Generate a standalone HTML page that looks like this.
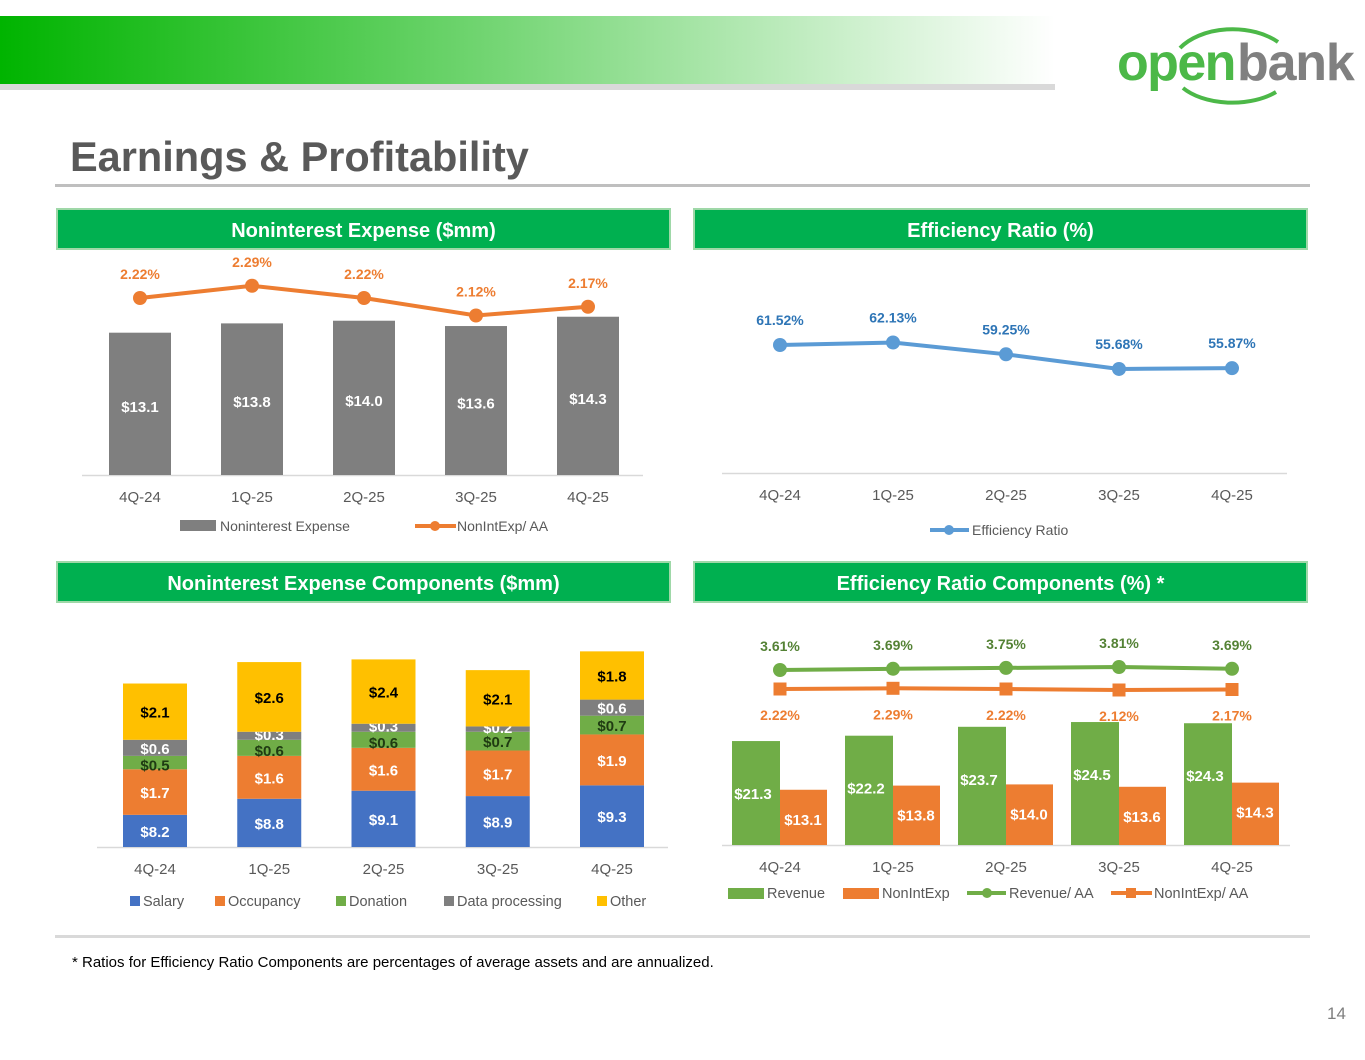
<!DOCTYPE html>
<html><head><meta charset="utf-8"><style>
html,body{margin:0;padding:0;background:#fff;}
body{width:1365px;height:1055px;overflow:hidden;font-family:"Liberation Sans",sans-serif;}
svg text{font-family:"Liberation Sans",sans-serif;}
</style></head><body>
<svg id="s" width="1365" height="1055" viewBox="0 0 1365 1055" xmlns="http://www.w3.org/2000/svg">
<defs><linearGradient id="hg" x1="0" x2="1" y1="0" y2="0">
<stop offset="0" stop-color="#00b400"/><stop offset="0.45" stop-color="#6fd46f"/><stop offset="1" stop-color="#ffffff"/></linearGradient></defs>
<rect x="0" y="16" width="1055" height="68" fill="url(#hg)"/>
<rect x="0" y="84" width="1055" height="6" fill="#d9d9d9"/>
<g>
<path d="M1180 48 A62 40 0 0 1 1278 42" stroke="#4cb848" stroke-width="4" fill="none"/>
<path d="M1183 88 A60 34 0 0 0 1276 92" stroke="#4cb848" stroke-width="4" fill="none"/>
<text x="1117" y="80" font-size="52" font-weight="bold" fill="#4cb848" letter-spacing="-1.6">open</text>
<text x="1237" y="80" font-size="52" font-weight="bold" fill="#808080" letter-spacing="-1.2">bank</text>
</g>
<text x="70" y="171" font-size="41.5" font-weight="bold" fill="#595959">Earnings &amp; Profitability</text>
<rect x="55" y="184" width="1255" height="3" fill="#bfbfbf"/>
<g><rect x="57" y="209" width="613" height="40" fill="#00b050" stroke="#9fd8a8" stroke-width="2"/><text x="363.5" y="237" text-anchor="middle" font-size="20" font-weight="bold" fill="#fff">Noninterest Expense ($mm)</text></g>
<g><rect x="694" y="209" width="613" height="40" fill="#00b050" stroke="#9fd8a8" stroke-width="2"/><text x="1000.5" y="237" text-anchor="middle" font-size="20" font-weight="bold" fill="#fff">Efficiency Ratio (%)</text></g>
<g><rect x="57" y="562" width="613" height="40" fill="#00b050" stroke="#9fd8a8" stroke-width="2"/><text x="363.5" y="590" text-anchor="middle" font-size="20" font-weight="bold" fill="#fff">Noninterest Expense Components ($mm)</text></g>
<g><rect x="694" y="562" width="613" height="40" fill="#00b050" stroke="#9fd8a8" stroke-width="2"/><text x="1000.5" y="590" text-anchor="middle" font-size="20" font-weight="bold" fill="#fff">Efficiency Ratio Components (%) *</text></g>
<rect x="55" y="935" width="1255" height="3" fill="#d9d9d9"/>
<text x="72" y="967" font-size="15" fill="#000">* Ratios for Efficiency Ratio Components are percentages of average assets and are annualized.</text>
<text x="1327" y="1019" font-size="17" fill="#7f7f7f">14</text>
<g id="charts"></g>
</svg>
<script>
const quarters=["4Q-24","1Q-25","2Q-25","3Q-25","4Q-25"];
const nieValues=[13.1,13.8,14.0,13.6,14.3];
const nieAA=[2.22,2.29,2.22,2.12,2.17];
const effRatio=[61.52,62.13,59.25,55.68,55.87];
const salary=[8.2,8.8,9.1,8.9,9.3];
const occupancy=[1.7,1.6,1.6,1.7,1.9];
const donation=[0.5,0.6,0.6,0.7,0.7];
const dataProc=[0.6,0.3,0.3,0.2,0.6];
const other=[2.1,2.6,2.4,2.1,1.8];
const revenue=[21.3,22.2,23.7,24.5,24.3];
const nonIntExp=[13.1,13.8,14.0,13.6,14.3];
const revenueAA=[3.61,3.69,3.75,3.81,3.69];
const nonIntExpAA=[2.22,2.29,2.22,2.12,2.17];

const NS="http://www.w3.org/2000/svg";
const root=document.getElementById('charts');
function mk(tag,attrs,parent,txt){const e=document.createElementNS(NS,tag);for(const k in attrs)e.setAttribute(k,attrs[k]);if(txt!==undefined)e.textContent=txt;(parent||root).appendChild(e);return e;}
function grp(name){const g=mk('g',{});


return g;}
const GRAY="#595959",ORANGE="#ed7d31",BLUE="#5b9bd5",GREEN="#70ad47";

// Chart 1
(function(){
const g=grp('noninterest-expense-chart');
const xs=i=>140+i*112;
const yb=v=>475-(v-2.4)*13.3;
const yl=v=>298-(v-2.22)*175;
mk('line',{x1:82,x2:643,y1:475.5,y2:475.5,stroke:"#d9d9d9","stroke-width":1.5},g);
nieValues.forEach((v,i)=>{
 const r=mk('rect',{x:xs(i)-31,y:yb(v),width:62,height:475-yb(v),fill:"#7f7f7f"},g);
 
 
 mk('text',{x:xs(i),y:(yb(v)+475)/2+8,"text-anchor":"middle","font-size":15,"font-weight":"bold",fill:"#fff"},g,"$"+v.toFixed(1));
 mk('text',{x:xs(i),y:502,"text-anchor":"middle","font-size":15,fill:GRAY},g,quarters[i]);
});
mk('polyline',{points:nieAA.map((v,i)=>xs(i)+","+yl(v)).join(" "),fill:"none",stroke:ORANGE,"stroke-width":4},g);
nieAA.forEach((v,i)=>{
 const c=mk('circle',{cx:xs(i),cy:yl(v),r:7,fill:ORANGE},g);
 
 
 mk('text',{x:xs(i),y:yl(v)-19,"text-anchor":"middle","font-size":14,"font-weight":"bold",fill:ORANGE},g,v.toFixed(2)+"%");
});
mk('rect',{x:180,y:520,width:36,height:11,fill:"#7f7f7f"},g);
mk('text',{x:220,y:531,"font-size":14,fill:GRAY},g,"Noninterest Expense");
mk('line',{x1:415,x2:456,y1:526,y2:526,stroke:ORANGE,"stroke-width":4},g);
mk('circle',{cx:435,cy:526,r:5,fill:ORANGE},g);
mk('text',{x:457,y:531,"font-size":14,fill:GRAY},g,"NonIntExp/ AA");
})();

// Chart 2
(function(){
const g=grp('efficiency-ratio-chart');
const xs=i=>780+i*113;
const yl=v=>345-(v-61.52)*4.1;
mk('line',{x1:722,x2:1287,y1:473.5,y2:473.5,stroke:"#d9d9d9","stroke-width":1.5},g);
quarters.forEach((q,i)=>mk('text',{x:xs(i),y:500,"text-anchor":"middle","font-size":15,fill:GRAY},g,q));
mk('polyline',{points:effRatio.map((v,i)=>xs(i)+","+yl(v)).join(" "),fill:"none",stroke:BLUE,"stroke-width":4},g);
effRatio.forEach((v,i)=>{
 const c=mk('circle',{cx:xs(i),cy:yl(v),r:7,fill:BLUE},g);
 
 
 mk('text',{x:xs(i),y:yl(v)-20,"text-anchor":"middle","font-size":14,"font-weight":"bold",fill:"#2e75b6"},g,v.toFixed(2)+"%");
});
mk('line',{x1:930,x2:969,y1:530,y2:530,stroke:BLUE,"stroke-width":4},g);
mk('circle',{cx:949,cy:530,r:5,fill:BLUE},g);
mk('text',{x:972,y:535,"font-size":14,fill:GRAY},g,"Efficiency Ratio");
})();

// Chart 3
(function(){
const g=grp('expense-components-chart');
const xs=i=>155+i*114.25;
const base=847, sc=26.8, org=7.0;
mk('line',{x1:97,x2:668,y1:847.5,y2:847.5,stroke:"#d9d9d9","stroke-width":1.5},g);
const series=[["salary",salary,"#4472c4","#fff"],["occupancy",occupancy,ORANGE,"#fff"],["donation",donation,GREEN,"#1f3b12"],["data-processing",dataProc,"#7f7f7f","#fff"],["other",other,"#ffc000","#000"]];
quarters.forEach((q,i)=>{
 let top=base;
 series.forEach(([nm,arr,col,tc],k)=>{
  const v=arr[i];
  const h=k===0?(v-org)*sc:v*sc;
  const y=top-h;
  const r=mk('rect',{x:xs(i)-32,y:y,width:64,height:h,fill:col},g);
  
  
  let ty=y+h/2+6;
  if(k===2) ty=y+h/2+(h<17?8:6);
  if(k===3) ty=y+h/2+(h<10?4:6);
  mk('text',{x:xs(i),y:ty,"text-anchor":"middle","font-size":15,"font-weight":"bold",fill:tc},g,"$"+v.toFixed(1));
  top=y;
 });
 mk('text',{x:xs(i),y:874,"text-anchor":"middle","font-size":15,fill:GRAY},g,q);
});
const leg=[["Salary","#4472c4",130],["Occupancy",ORANGE,215],["Donation",GREEN,336],["Data processing","#7f7f7f",444],["Other","#ffc000",597]];
leg.forEach(([t,c,x])=>{mk('rect',{x:x,y:896,width:10,height:10,fill:c},g);mk('text',{x:x+13,y:906,"font-size":14.5,fill:GRAY},g,t);});
})();

// Chart 4
(function(){
const g=grp('efficiency-components-chart');
const xs=i=>780+i*113;
const base=845, sc=5.94, org=3.8;
const yb=v=>base-(v-org)*sc;
const yr=v=>670-(v-3.61)*15;
const yn=v=>689-(v-2.22)*10;
mk('line',{x1:722,x2:1290,y1:845.5,y2:845.5,stroke:"#d9d9d9","stroke-width":1.5},g);
quarters.forEach((q,i)=>{
 const r1=mk('rect',{x:xs(i)-48,y:yb(revenue[i]),width:48,height:base-yb(revenue[i]),fill:GREEN},g);
 
 
 const r2=mk('rect',{x:xs(i),y:yb(nonIntExp[i]),width:47,height:base-yb(nonIntExp[i]),fill:ORANGE},g);
 
 
 mk('text',{x:xs(i)-27,y:yb(revenue[i])+58,"text-anchor":"middle","font-size":15,"font-weight":"bold",fill:"#fff"},g,"$"+revenue[i].toFixed(1));
 mk('text',{x:xs(i)+23,y:yb(nonIntExp[i])+35,"text-anchor":"middle","font-size":15,"font-weight":"bold",fill:"#fff"},g,"$"+nonIntExp[i].toFixed(1));
 mk('text',{x:xs(i),y:872,"text-anchor":"middle","font-size":15,fill:GRAY},g,q);
});
mk('polyline',{points:revenueAA.map((v,i)=>xs(i)+","+yr(v)).join(" "),fill:"none",stroke:GREEN,"stroke-width":4},g);
mk('polyline',{points:nonIntExpAA.map((v,i)=>xs(i)+","+yn(v)).join(" "),fill:"none",stroke:ORANGE,"stroke-width":4},g);
revenueAA.forEach((v,i)=>{
 const c=mk('circle',{cx:xs(i),cy:yr(v),r:7,fill:GREEN},g);
 
 
 mk('text',{x:xs(i),y:yr(v)-19,"text-anchor":"middle","font-size":14,"font-weight":"bold",fill:"#548235"},g,v.toFixed(2)+"%");
});
nonIntExpAA.forEach((v,i)=>{
 const s=mk('rect',{x:xs(i)-6.5,y:yn(v)-6.5,width:13,height:13,fill:ORANGE},g);
 
 
 mk('text',{x:xs(i),y:720+(2.22-v)*10,"text-anchor":"middle","font-size":14,"font-weight":"bold",fill:ORANGE},g,v.toFixed(2)+"%");
});
mk('rect',{x:728,y:888,width:36,height:11,fill:GREEN},g);
mk('text',{x:767,y:898,"font-size":14.5,fill:GRAY},g,"Revenue");
mk('rect',{x:843,y:888,width:36,height:11,fill:ORANGE},g);
mk('text',{x:882,y:898,"font-size":14.5,fill:GRAY},g,"NonIntExp");
mk('line',{x1:967,x2:1006,y1:893,y2:893,stroke:GREEN,"stroke-width":4},g);
mk('circle',{cx:987,cy:893,r:5,fill:GREEN},g);
mk('text',{x:1009,y:898,"font-size":14.5,fill:GRAY},g,"Revenue/ AA");
mk('line',{x1:1111,x2:1152,y1:893,y2:893,stroke:ORANGE,"stroke-width":4},g);
mk('rect',{x:1126,y:888,width:10,height:10,fill:ORANGE},g);
mk('text',{x:1154,y:898,"font-size":14.5,fill:GRAY},g,"NonIntExp/ AA");
})();
</script>
</body></html>
